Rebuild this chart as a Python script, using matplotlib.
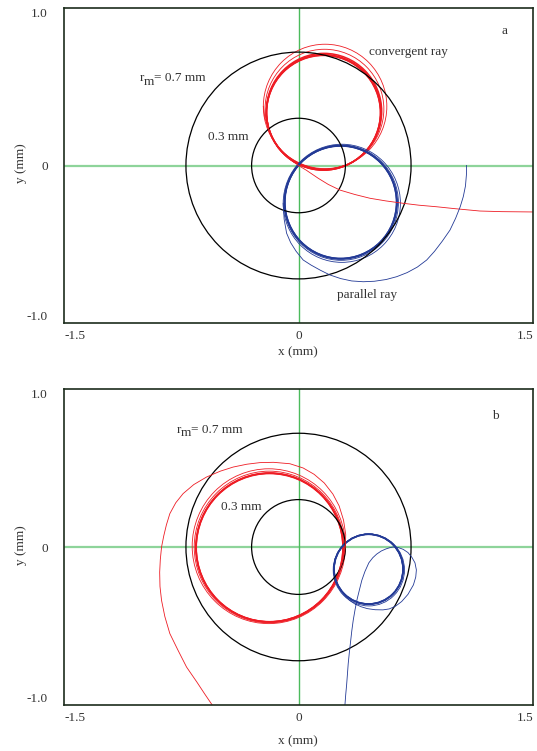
import matplotlib
matplotlib.use('Agg')
import matplotlib.pyplot as plt
from matplotlib.patches import Circle
from matplotlib.transforms import offset_copy

plt.rcParams['font.family'] = ['Liberation Serif', 'DejaVu Serif']

# reference circles (radius, mm)
ref_radii = [0.72, 0.3]

# panel a: convergent ray (red)
a_red_tail_x = [1.5, 1.3, 1.16, 1.0, 0.884, 0.77, 0.67, 0.56, 0.457, 0.36, 0.265, 0.19, 0.126, 0.05, 0.0, -0.07, -0.13, -0.18, -0.215, -0.225]
a_red_tail_y = [-0.295, -0.293, -0.289, -0.274, -0.262, -0.252, -0.24, -0.225, -0.208, -0.184, -0.156, -0.12, -0.081, -0.03, 0.0, 0.05, 0.11, 0.2, 0.3, 0.375]
a_red_loop_cx = [0.17, 0.166, 0.163, 0.161, 0.160, 0.160]
a_red_loop_cy = [0.375, 0.358, 0.343, 0.338, 0.336, 0.335]
a_red_loop_r = [0.395, 0.38, 0.369, 0.366, 0.365, 0.364]

# panel a: parallel ray (blue)
a_blue_tail_x = [1.075, 1.074, 1.068, 1.054, 1.035, 1.005, 0.969, 0.92, 0.87, 0.82, 0.76, 0.695, 0.628, 0.56, 0.485, 0.414, 0.34, 0.27, 0.201, 0.14, 0.08, 0.03, -0.015, -0.05, -0.076, -0.092, -0.098]
a_blue_tail_y = [0.0, -0.06, -0.13, -0.198, -0.26, -0.335, -0.41, -0.48, -0.545, -0.6, -0.645, -0.68, -0.706, -0.724, -0.735, -0.738, -0.733, -0.718, -0.695, -0.665, -0.632, -0.6, -0.545, -0.49, -0.43, -0.34, -0.24]
a_blue_loop_cx = [0.277, 0.273, 0.271, 0.27, 0.27]
a_blue_loop_cy = [-0.24, -0.236, -0.234, -0.233, -0.233]
a_blue_loop_r = [0.375, 0.366, 0.36, 0.358, 0.357]

# panel b: convergent ray (red)
b_red_tail_x = [-0.552, -0.6, -0.65, -0.716, -0.77, -0.823, -0.855, -0.876, -0.886, -0.888, -0.884, -0.876, -0.862, -0.845, -0.823, -0.785, -0.738, -0.67, -0.588, -0.5, -0.418, -0.33, -0.247, -0.16, -0.055, 0.03, 0.1, 0.165, 0.22, 0.26, 0.288, 0.302, 0.3, 0.283, 0.25]
b_red_tail_y = [-1.0, -0.93, -0.855, -0.76, -0.655, -0.548, -0.44, -0.338, -0.25, -0.16, -0.08, 0.0, 0.07, 0.14, 0.211, 0.28, 0.338, 0.395, 0.443, 0.48, 0.506, 0.524, 0.534, 0.536, 0.527, 0.5, 0.46, 0.405, 0.335, 0.26, 0.17, 0.08, 0.0, -0.09, -0.18]
b_red_loop_cx = [-0.19, -0.187, -0.185, -0.185, -0.185]
b_red_loop_cy = [0.005, 0.0, -0.003, -0.003, -0.004]
b_red_loop_r = [0.49, 0.48, 0.472, 0.47, 0.469]

# panel b: parallel ray (blue)
b_blue_tail_x = [0.297, 0.302, 0.308, 0.313, 0.318, 0.325, 0.333, 0.341, 0.35, 0.362, 0.375, 0.39, 0.405, 0.425, 0.45, 0.475, 0.5, 0.53, 0.56, 0.585, 0.606, 0.64, 0.67, 0.7, 0.725, 0.745, 0.754, 0.75, 0.735, 0.7, 0.66, 0.62, 0.58, 0.54, 0.49, 0.44, 0.4, 0.36, 0.325, 0.295, 0.27]
b_blue_tail_y = [-1.0, -0.935, -0.87, -0.805, -0.738, -0.67, -0.6, -0.53, -0.464, -0.395, -0.33, -0.27, -0.211, -0.155, -0.1, -0.068, -0.045, -0.025, -0.012, -0.004, 0.0, -0.004, -0.015, -0.035, -0.065, -0.1, -0.145, -0.19, -0.24, -0.3, -0.345, -0.375, -0.392, -0.398, -0.397, -0.39, -0.378, -0.36, -0.337, -0.305, -0.27]
b_blue_loop_cx = [0.45, 0.448, 0.448, 0.448]
b_blue_loop_cy = [-0.145, -0.141, -0.14, -0.14]
b_blue_loop_r = [0.228, 0.222, 0.221, 0.22]

RED = '#ee1c24'
BLUE = '#233a96'
TXT = '#333333'
FS = 9.5


def draw_loops(ax, cx, cy, r, color, n_thin):
    for i in range(len(r)):
        lw = 0.6 if i < n_thin else 1.1
        ax.add_patch(Circle((cx[i], cy[i]), r[i], fill=False, ec=color, lw=lw))


def rm_label(ax, x, y):
    # r with a full-size, lowered "m" subscript
    ax.text(x, y, 'r', fontsize=FS, va='baseline', color=TXT)
    t1 = offset_copy(ax.transData, fig=ax.figure, x=3.0, y=-2.5, units='points')
    ax.text(x, y, 'm', fontsize=FS, va='baseline', color=TXT, transform=t1)
    t2 = offset_copy(ax.transData, fig=ax.figure, x=10.5, y=0, units='points')
    ax.text(x, y, '= 0.7 mm', fontsize=FS, va='baseline', color=TXT, transform=t2)


def setup(ax):
    ax.set_xlim(-1.5, 1.5)
    ax.set_ylim(-1.0, 1.0)
    for s in ax.spines.values():
        s.set_color('#1c2c1c')
        s.set_linewidth(1.2)
    ax.axhline(0, color='#8ed49a', lw=1.6, zorder=1)
    ax.axvline(0, color='#4cbb5c', lw=1.0, zorder=1)
    ax.set_xticks([-1.5, 0, 1.5])
    ax.set_xticklabels(['-1.5', '0', '1.5'])
    ax.set_yticks([-1.0, 0, 1.0])
    ax.set_yticklabels(['-1.0', '0', '1.0'])
    ax.tick_params(length=0, labelsize=FS, labelcolor=TXT)
    ax.tick_params(axis='x', pad=5)
    ax.tick_params(axis='y', pad=11.5)
    xl = ax.get_xticklabels()
    xl[0].set_ha('left')
    xl[-1].set_ha('right')
    yl = ax.get_yticklabels()
    yl[0].set_va('bottom')
    yl[-1].set_va('top')
    for r in ref_radii:
        ax.add_patch(Circle((0, 0), r, fill=False, ec='black', lw=0.9, zorder=2))


fig = plt.figure(figsize=(5.37, 7.51), dpi=100)
ax1 = fig.add_axes([64/537, 1-323/751, 469/537, 315/751])
ax2 = fig.add_axes([64/537, 1-705/751, 469/537, 316/751])
setup(ax1)
setup(ax2)

# panel a
ax1.plot(a_red_tail_x, a_red_tail_y, color=RED, lw=0.6)
draw_loops(ax1, a_red_loop_cx, a_red_loop_cy, a_red_loop_r, RED, 2)
ax1.plot(a_blue_tail_x, a_blue_tail_y, color=BLUE, lw=0.6)
draw_loops(ax1, a_blue_loop_cx, a_blue_loop_cy, a_blue_loop_r, BLUE, 2)

ax1.text(1.32, 0.855, 'a', fontsize=FS, ha='center', va='center', color=TXT)
ax1.text(0.45, 0.719, 'convergent ray', fontsize=FS, va='center', color=TXT)
ax1.text(0.248, -0.822, 'parallel ray', fontsize=FS, va='center', color=TXT)
rm_label(ax1, -1.015, 0.535)
ax1.text(-0.582, 0.183, '0.3 mm', fontsize=FS, va='center', color=TXT)

# panel b
ax2.plot(b_red_tail_x, b_red_tail_y, color=RED, lw=0.6)
draw_loops(ax2, b_red_loop_cx, b_red_loop_cy, b_red_loop_r, RED, 2)
ax2.plot(b_blue_tail_x, b_blue_tail_y, color=BLUE, lw=0.6)
draw_loops(ax2, b_blue_loop_cx, b_blue_loop_cy, b_blue_loop_r, BLUE, 1)

ax2.text(1.257, 0.829, 'b', fontsize=FS, ha='center', va='center', color=TXT)
rm_label(ax2, -0.78, 0.724)
ax2.text(-0.497, 0.253, '0.3 mm', fontsize=FS, va='center', color=TXT)

fig.text(298/537, 1-352/751, 'x (mm)', fontsize=FS, ha='center', va='center', color=TXT)
fig.text(298/537, 1-741/751, 'x (mm)', fontsize=FS, ha='center', va='center', color=TXT)
fig.text(20.7/537, 1-163/751, 'y (mm)', fontsize=FS, rotation=90, ha='center', va='center', color=TXT)
fig.text(20.7/537, 1-545/751, 'y (mm)', fontsize=FS, rotation=90, ha='center', va='center', color=TXT)

plt.savefig('out.png', dpi=100)
